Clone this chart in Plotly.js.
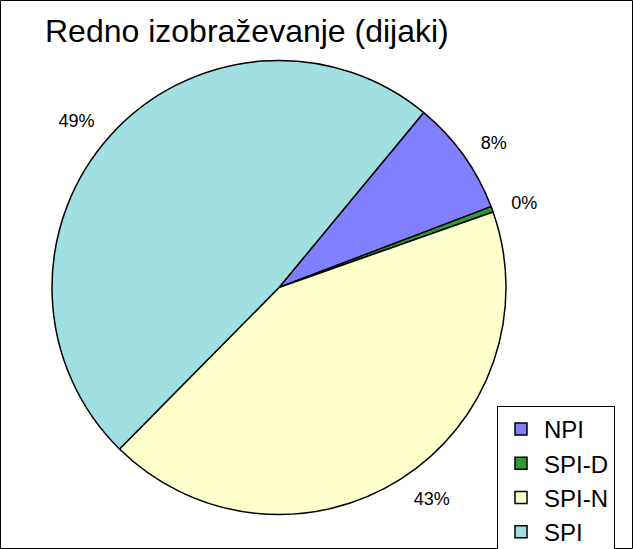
<!DOCTYPE html>
<html>
<head>
<meta charset="utf-8">
<script src="https://cdn.plot.ly/plotly-3.0.1.min.js"></script>
<style>html,body{margin:0;padding:0;background:#fff;} #chart{width:633px;height:549px;}</style>
</head>
<body>
<div id="chart"></div>
<script>
const categories = ["NPI", "SPI-D", "SPI-N", "SPI"];
const shares = [8.2, 0.4, 42.8, 48.6];
const colors = ["#8080FF", "#339933", "#FFFFCC", "#A0E0E0"];
const chartTitle = "Redno izobraževanje (dijaki)";

const W = 633, H = 549;
const cx = 279, cy = 287.5, r = 227, rLabel = 242;
const FONT = "Arial, 'Liberation Sans', sans-serif";

function dom(rad) {
  return { x: [(cx - rad) / W, (cx + rad) / W], y: [(H - cy - rad) / H, (H - cy + rad) / H] };
}

const pieTrace = {
  type: "pie",
  labels: categories,
  values: shares,
  sort: false,
  direction: "clockwise",
  rotation: 39.6,
  marker: { colors: colors, line: { color: "#000000", width: 1.5 } },
  textinfo: "none",
  hoverinfo: "skip",
  domain: dom(r)
};

const labelTrace = {
  type: "pie",
  labels: categories,
  values: shares,
  sort: false,
  direction: "clockwise",
  rotation: 39.6,
  showlegend: false,
  marker: { colors: ["rgba(0,0,0,0)", "rgba(0,0,0,0)", "rgba(0,0,0,0)", "rgba(0,0,0,0)"], line: { width: 0 } },
  texttemplate: "%{percent:.0%}",
  textposition: "outside",
  textfont: { family: FONT, size: 18, color: "#000000" },
  hoverinfo: "skip",
  domain: dom(rLabel)
};

const layout = {
  width: W, height: H,
  margin: { l: 0, r: 0, t: 0, b: 0, autoexpand: false },
  paper_bgcolor: "#ffffff",
  font: { family: FONT, color: "#000000" },
  title: {
    text: chartTitle,
    font: { family: FONT, size: 32, color: "#000000" },
    x: 45 / W, xanchor: "left", xref: "paper",
    y: 1 - 31 / H, yanchor: "middle", yref: "paper"
  },
  showlegend: true,
  legend: {
    x: 497 / W, xanchor: "left",
    y: 1 - 406 / H, yanchor: "top",
    bgcolor: "#ffffff",
    bordercolor: "#000000", borderwidth: 1,
    font: { family: FONT, size: 24, color: "#000000" },
    itemwidth: 36,
    entrywidth: 150,
    traceorder: "normal"
  },
  shapes: [{
    type: "rect", xref: "paper", yref: "paper",
    x0: 0.5 / W, x1: 1 - 0.5 / W, y0: 0.5 / H, y1: 1 - 0.5 / H,
    line: { color: "#000000", width: 1 }, fillcolor: "rgba(0,0,0,0)", layer: "below"
  }]
};

Plotly.newPlot("chart", [pieTrace, labelTrace], layout, { displayModeBar: false, staticPlot: true });
</script>
</body>
</html>
